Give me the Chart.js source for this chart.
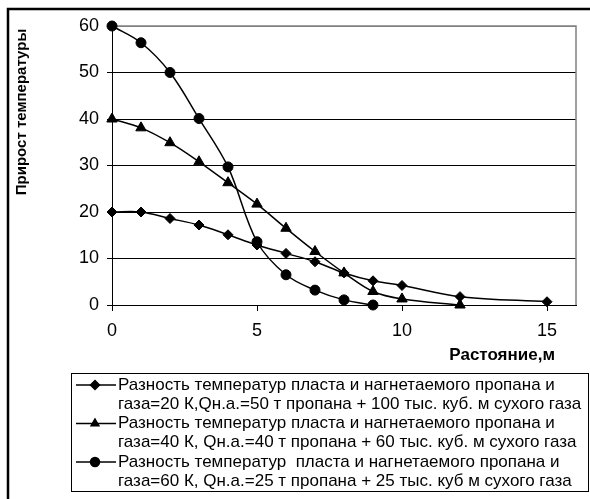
<!DOCTYPE html>
<html>
<head>
<meta charset="utf-8">
<script src="https://cdn.jsdelivr.net/npm/chart.js@4.4.1/dist/chart.umd.min.js"></script>
<style>
  html, body { margin: 0; padding: 0; background: #fff; }
  #wrap { width: 590px; height: 499px; }
</style>
</head>
<body>
<div id="wrap"><canvas id="temp" width="590" height="499"></canvas></div>
<script>
// distance, m
var dist20 = [0, 1, 2, 3, 4, 5, 6, 7, 8, 9, 10, 12, 15];
var dist40 = [0, 1, 2, 3, 4, 5, 6, 7, 8, 9, 10, 12];
var dist60 = [0, 1, 2, 3, 4, 5, 6, 7, 8, 9];

// temperature rise
var rise20 = [20, 20, 18.6, 17.2, 15.1, 12.9, 11.1, 9.3, 6.9, 5.2, 4.2, 1.8, 0.7];
var rise40 = [40, 38.1, 34.9, 30.8, 26.3, 21.7, 16.5, 11.5, 6.9, 2.9, 1.3, 0];
var rise60 = [60, 56.4, 50, 40.1, 29.7, 13.6, 6.5, 3.2, 1.1, 0];

var xTicks = [0, 5, 10, 15];
var yTicks = [0, 10, 20, 30, 40, 50, 60];

var legendLines = [
  ['Разность температур пласта и нагнетаемого пропана и',
   'газа=20 К,Qн.а.=50 т пропана + 100 тыс. куб. м сухого газа'],
  ['Разность температур пласта и нагнетаемого пропана и',
   'газа=40 К, Qн.а.=40 т пропана + 60 тыс. куб. м сухого газа'],
  ['Разность температур  пласта и нагнетаемого пропана и',
   'газа=60 К, Qн.а.=25 т пропана + 25 тыс. куб м сухого газа']
];

var yTitle = 'Прирост температуры';
var xTitle = 'Растояние,м';

var FONT = 'Arial, "Liberation Sans", sans-serif';

function pts(xs, ys) {
  return xs.map(function (x, i) { return { x: x, y: ys[i] }; });
}

function series(label, data, style, radius) {
  return {
    label: label,
    data: data,
    borderColor: '#000',
    backgroundColor: '#000',
    borderWidth: 1.5,
    pointStyle: style,
    pointRadius: radius,
    pointBackgroundColor: '#000',
    pointBorderColor: '#000',
    pointBorderWidth: 1,
    tension: 0.35,
    clip: false,
    fill: false
  };
}

// frame, axis titles and the boxed legend
var extras = {
  id: 'extras',
  beforeDatasetsDraw: function (chart) {
    var ctx = chart.ctx;
    var area = chart.chartArea;
    ctx.save();
    // plot border top/right
    ctx.strokeStyle = '#808080';
    ctx.lineWidth = 1.5;
    ctx.beginPath();
    ctx.moveTo(area.left, area.top);
    ctx.lineTo(area.right, area.top);
    ctx.lineTo(area.right, area.bottom);
    ctx.stroke();
    ctx.restore();
  },
  afterDraw: function (chart) {
    var ctx = chart.ctx;
    ctx.save();

    // outer frame
    ctx.strokeStyle = '#000';
    ctx.lineWidth = 2.5;
    ctx.beginPath();
    ctx.moveTo(8, 499);
    ctx.lineTo(8, 9);
    ctx.lineTo(590, 9);
    ctx.stroke();

    // titles
    ctx.fillStyle = '#000';
    ctx.font = 'bold 15px ' + FONT;
    ctx.textAlign = 'center';
    ctx.textBaseline = 'middle';
    ctx.save();
    ctx.translate(22, 112);
    ctx.rotate(-Math.PI / 2);
    ctx.fillText(yTitle, 0, 0);
    ctx.restore();

    ctx.font = 'bold 17px ' + FONT;
    ctx.textAlign = 'right';
    ctx.fillText(xTitle, 555, 355);

    // legend
    var bx = 71, by = 373, bw = 517, bh = 118;
    ctx.fillStyle = '#fff';
    ctx.fillRect(bx, by, bw, bh);
    ctx.strokeStyle = '#000';
    ctx.lineWidth = 1;
    ctx.strokeRect(bx + 0.5, by + 0.5, bw, bh);

    ctx.font = '17px ' + FONT;
    ctx.textAlign = 'left';
    chart.data.datasets.forEach(function (ds, i) {
      var y = 385 + i * 38.5;
      ctx.strokeStyle = '#000';
      ctx.lineWidth = 1.5;
      ctx.beginPath();
      ctx.moveTo(76, y);
      ctx.lineTo(116, y);
      ctx.stroke();
      ctx.fillStyle = '#000';
      Chart.helpers.drawPoint(ctx, {
        pointStyle: ds.pointStyle,
        radius: 4.5,
        rotation: 0,
        borderWidth: 1
      }, 95, y);
      ctx.fillStyle = '#000';
      ctx.fillText(legendLines[i][0], 118, y);
      ctx.fillText(legendLines[i][1], 118, y + 19);
    });

    ctx.restore();
  }
};

var ctx = document.getElementById('temp').getContext('2d');
var chart = new Chart(ctx, {
  type: 'line',
  data: {
    datasets: [
      series(legendLines[0].join(' '), pts(dist20, rise20), 'rectRot', 5),
      series(legendLines[1].join(' '), pts(dist40, rise40), 'triangle', 6),
      series(legendLines[2].join(' '), pts(dist60, rise60), 'circle', 5)
    ]
  },
  plugins: [extras],
  options: {
    responsive: false,
    animation: false,
    devicePixelRatio: 1,
    layout: { padding: { top: 26, right: 14, left: 0, bottom: 0 } },
    plugins: {
      legend: { display: false },
      tooltip: { enabled: false }
    },
    scales: {
      x: {
        type: 'linear',
        min: 0,
        max: 16,
        afterFit: function (s) { s.height = 499 - 305; },
        afterBuildTicks: function (s) { s.ticks = xTicks.map(function (v) { return { value: v }; }); },
        ticks: {
          font: { family: FONT, size: 18 },
          color: '#000',
          padding: 9,
          maxRotation: 0
        },
        grid: { display: true, drawOnChartArea: false, drawTicks: true, tickLength: 6, color: '#000' },
        border: { display: true, color: '#000', width: 1 }
      },
      y: {
        min: 0,
        max: 60,
        afterFit: function (s) { s.width = 112; },
        afterBuildTicks: function (s) { s.ticks = yTicks.map(function (v) { return { value: v }; }); },
        ticks: {
          font: { family: FONT, size: 18 },
          color: '#000',
          padding: 8
        },
        grid: {
          drawTicks: true,
          tickLength: 5,
          color: function (c) { return c.tick && c.tick.value === 60 ? '#808080' : '#000'; }
        },
        border: { display: true, color: '#000', width: 1 }
      }
    }
  }
});
</script>
</body>
</html>
